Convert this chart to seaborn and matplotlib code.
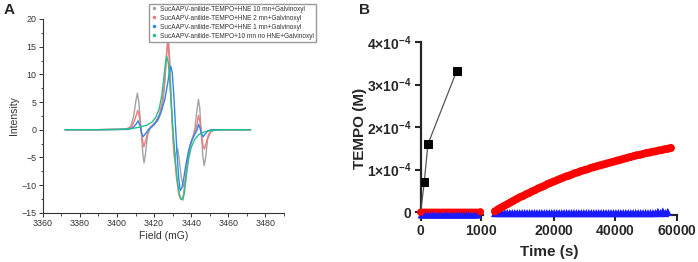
import numpy as np
import pandas as pd
import matplotlib
matplotlib.use("Agg")
import matplotlib.pyplot as plt
import seaborn as sns
from matplotlib.lines import Line2D
from matplotlib.ticker import MultipleLocator, FixedLocator, FuncFormatter

# ---------------- panel A : EPR spectra ----------------
labels_a = [
    "SucAAPV-anilide-TEMPO+HNE 10 mn+Galvinoxyl",
    "SucAAPV-anilide-TEMPO+HNE 2 mn+Galvinoxyl",
    "SucAAPV-anilide-TEMPO+HNE 1 mn+Galvinoxyl",
    "SucAAPV-anilide-TEMPO+10 mn no HNE+Galvinoxyl",
]
colors_a = ["#a3a3a3", "#f47a7a", "#2f86ee", "#25c08a"]

gray_field = [3372, 3390, 3405, 3407.5, 3409, 3410.2, 3411, 3411.8, 3413, 3414, 3414.6, 3415.3,
              3416.5, 3418, 3420, 3422, 3423.5, 3424.8, 3425.8, 3426.7, 3427.7, 3428.5, 3429.2,
              3430.2, 3431, 3431.8, 3432.7, 3433.6, 3434.6, 3435.8, 3437, 3438.2, 3439.5, 3441,
              3442, 3442.9, 3443.9, 3444.6, 3445.4, 3446.3, 3447, 3447.8, 3448.8, 3450.5, 3453, 3472]
gray_int = [0, 0, 0.1, 0.6, 2.5, 5.2, 6.6, 5.0, 0, -4.5, -6.0, -4.5,
            -1.0, 0.3, 0.9, 1.6, 2.8, 5.0, 8.5, 13.5, 16.7, 12.5, 6.0,
            -2.0, -5.2, -4.2, -3.4, -5.5, -8.5, -10.3, -9.0, -5.5, -2.8, -1.2,
            0.3, 3.0, 5.5, 4.0, -0.5, -4.8, -6.5, -5.0, -1.8, -0.4, 0, 0]

red_field = [3372, 3390, 3405, 3408, 3409.8, 3411.2, 3412.3, 3413.4, 3414.5, 3415.6, 3417, 3419,
             3421, 3422.8, 3424.3, 3425.5, 3426.5, 3427.3, 3428.1, 3428.9, 3429.7, 3430.8, 3432,
             3433.2, 3434.2, 3435, 3435.8, 3436.8, 3438, 3439.5, 3441, 3442.3, 3443.2, 3443.9,
             3444.7, 3445.6, 3446.4, 3447.1, 3448, 3449.3, 3451, 3454, 3472]
red_int = [0, 0, 0.1, 0.5, 2.0, 3.5, 2.0, -1.2, -3.1, -1.8, 0.1, 0.8,
           1.5, 2.7, 4.8, 8.0, 12.5, 16.3, 13.0, 7.0, 1.5, -4.0, -8.5,
           -11.5, -12.5, -12.6, -11.8, -9.0, -5.5, -2.8, -1.3, -0.3, 1.2, 2.6,
           1.5, -1.0, -2.9, -3.5, -2.5, -0.9, -0.2, 0, 0]

blue_field = [3372, 3390, 3406, 3408.5, 3410.3, 3411.4, 3412.6, 3413.3, 3414.1, 3415, 3416.5, 3418,
              3420, 3422, 3424, 3425.8, 3427.3, 3428.3, 3429, 3429.8, 3430.6, 3431.4, 3432.3,
              3433.2, 3434.1, 3435, 3436, 3437.2, 3438.6, 3440.2, 3441.8, 3443, 3444, 3444.8,
              3445.6, 3446.5, 3447.5, 3449, 3451, 3472]
blue_int = [0, 0, 0.05, 0.3, 1.0, 1.6, 0.6, -0.6, -1.27, -0.9, -0.2, 0.3,
            0.9, 1.9, 3.4, 5.5, 8.3, 10.5, 11.5, 10.3, 6.5, 1.5, -3.8,
            -8.5, -11.0, -10.5, -8.8, -6.2, -3.8, -2.0, -0.9, -0.2, 0.97, 0.2,
            -0.8, -1.27, -0.8, -0.2, 0, 0]

green_field = [3372, 3390, 3402, 3408, 3412, 3416, 3419, 3421, 3422.8, 3424.2, 3425.3, 3426.2,
               3426.9, 3427.7, 3428.5, 3429.4, 3430.3, 3431.3, 3432.4, 3433.5, 3434.5, 3435.5,
               3436.4, 3437.4, 3438.6, 3440, 3441.8, 3444, 3447, 3451, 3456, 3472]
green_int = [0, 0, 0.05, 0.2, 0.45, 0.8, 1.4, 2.3, 3.8, 6.3, 9.5, 12.2,
             13.2, 12.0, 8.5, 4.0, -0.5, -5.0, -8.8, -11.5, -12.5, -12.7,
             -11.3, -8.2, -5.3, -3.2, -1.8, -0.9, -0.4, -0.15, 0, 0]

# ---------------- panel B : TEMPO kinetics (values in 1e-4 M) ----------------
black_t = [0, 60, 120, 600]
black_v = [0, 0.72, 1.60, 3.33]

red_tri_t = [20, 60, 100, 140, 180, 220, 260, 300, 340, 380, 420, 460, 500, 540,
             580, 620, 660, 700, 740, 780, 820, 860, 900, 940]
red_tri_v = [0.02] * len(red_tri_t)
red_dot_t1 = [0, 990]
red_dot_v1 = [0, 0.01]

blue_t1 = [15, 45, 75, 105, 135, 165, 195, 225, 255, 285, 315, 345, 375, 405, 435, 465,
           495, 525, 555, 585, 615, 645, 675, 705, 735, 765, 795, 825, 855, 885, 915, 945]
blue_v1 = [-0.05] * len(blue_t1)

red_t2 = [1000, 2000, 3000, 4000, 5000, 6000, 7000, 8000, 9000, 10000, 11000, 12000,
          13000, 14000, 15000, 16000, 17000, 18000, 19000, 20000, 21000, 22000, 23000,
          24000, 25000, 26000, 27000, 28000, 29000, 30000, 31000, 32000, 33000, 34000,
          35000, 36000, 37000, 38000, 39000, 40000, 41000, 42000, 43000, 44000, 45000,
          46000, 47000, 48000, 49000, 50000, 51000, 52000, 53000, 54000, 55000, 56000,
          57000, 58000]
red_v2 = [0.02, 0.07, 0.11, 0.15, 0.19, 0.23, 0.27, 0.31, 0.35, 0.38, 0.42, 0.45,
          0.49, 0.52, 0.56, 0.59, 0.62, 0.66, 0.69, 0.72, 0.75, 0.78, 0.81,
          0.84, 0.86, 0.89, 0.92, 0.94, 0.97, 0.99, 1.01, 1.04, 1.06, 1.08,
          1.10, 1.12, 1.14, 1.16, 1.18, 1.20, 1.22, 1.24, 1.26, 1.28, 1.30,
          1.32, 1.34, 1.35, 1.37, 1.39, 1.40, 1.42, 1.43, 1.45, 1.46, 1.48,
          1.49, 1.51]

blue_t2 = [1000, 1800, 2600, 3400, 4200, 5000, 5800, 6600, 7400, 8200, 9000, 9800,
           10600, 11400, 12200, 13000, 13800, 14600, 15400, 16200, 17000, 17800, 18600,
           19400, 20200, 21000, 21800, 22600, 23400, 24200, 25000, 25800, 26600, 27400,
           28200, 29000, 29800, 30600, 31400, 32200, 33000, 33800, 34600, 35400, 36200,
           37000, 37800, 38600, 39400, 40200, 41000, 41800, 42600, 43400, 44200, 45000,
           45800, 46600, 47400, 48200, 49000, 49800, 50600, 51400, 52200, 53000, 53800,
           54600, 55400, 56200, 57000]
blue_v2 = [-0.02] * 66 + [0.01, -0.02, 0.02, -0.02, 0.01]

# ---------------- style ----------------
sns.set_style("ticks")
plt.rcParams['font.family'] = ['Liberation Sans', 'DejaVu Sans']
plt.rcParams['mathtext.fontset'] = 'custom'
plt.rcParams['mathtext.rm'] = 'Liberation Sans'
plt.rcParams['mathtext.bf'] = 'Liberation Sans:bold'

W, H = 698, 262
fig = plt.figure(figsize=(W / 100, H / 100), dpi=100)

def box(x0, y0, x1, y1):
    # pixel box -> figure fraction
    return [x0 / W, 1 - y1 / H, (x1 - x0) / W, (y1 - y0) / H]

# ---------------- panel A ----------------
axA = fig.add_axes(box(42.7, 19, 284, 212.7))
frames = []
for lab, f, v in zip(labels_a, [gray_field, red_field, blue_field, green_field],
                     [gray_int, red_int, blue_int, green_int]):
    frames.append(pd.DataFrame({"field": f, "intensity": v, "series": lab}))
df_a = pd.concat(frames, ignore_index=True)
sns.lineplot(data=df_a, x="field", y="intensity", hue="series", hue_order=labels_a,
             palette=colors_a, sort=False, estimator=None, legend=False, lw=1.0, ax=axA)

axA.set_xlim(3360, 3490)
axA.set_ylim(-15, 20)
axA.xaxis.set_major_locator(FixedLocator([3360, 3380, 3400, 3420, 3440, 3460, 3480]))
axA.xaxis.set_minor_locator(MultipleLocator(10))
axA.yaxis.set_major_locator(MultipleLocator(5))
axA.yaxis.set_minor_locator(MultipleLocator(2.5))
sns.despine(ax=axA)
for s in ["left", "bottom"]:
    axA.spines[s].set_color("#333333")
    axA.spines[s].set_linewidth(0.8)
axA.tick_params(which="major", length=3, width=0.7, color="#333333", labelsize=6.4,
                labelcolor="#333333", pad=1.5)
axA.tick_params(which="minor", length=1.8, width=0.6, color="#333333")
axA.set_xlabel("Field (mG)", fontsize=7.5, color="#333333", labelpad=2)
axA.set_ylabel("Intensity", fontsize=7.5, color="#333333", labelpad=2)

handles = [Line2D([], [], ls="none", marker="o", ms=1.5, color=c) for c in colors_a]
fig.legend(handles, labels_a, loc="upper left", bbox_to_anchor=(146 / W, 1 - 0.5 / H),
           fontsize=4.7, frameon=True, fancybox=False, edgecolor="#999999",
           handlelength=0.8, handletextpad=0.6, borderpad=0.3, labelspacing=0.3,
           labelcolor="#333333", framealpha=1)
fig.text(4 / W, 1 - 3 / H, "A", fontsize=11, fontweight="bold", va="top")

# ---------------- panel B ----------------
ylo, yhi = -0.06e-4, 4e-4
axB1 = fig.add_axes(box(420.7, 42, 482.8, 214.8))
axB2 = fig.add_axes(box(495, 42, 677, 214.8))
sc = 1e-4

sns.scatterplot(x=blue_t1, y=np.array(blue_v1) * sc, marker="^", s=34, color="#1a1aff",
                edgecolor="none", clip_on=False, ax=axB1, zorder=3)
sns.scatterplot(x=red_tri_t, y=np.array(red_tri_v) * sc, marker="v", s=14, color="red",
                edgecolor="none", clip_on=False, ax=axB1, zorder=4)
sns.scatterplot(x=red_dot_t1, y=np.array(red_dot_v1) * sc, marker="o", s=28, color="red",
                edgecolor="none", clip_on=False, ax=axB1, zorder=4)
sns.lineplot(x=black_t, y=np.array(black_v) * sc, color="#555555", lw=0.9, marker="s",
             markersize=5.5, markerfacecolor="black", markeredgecolor="black",
             markevery=[1, 2, 3], sort=False, estimator=None, ax=axB1, zorder=5)

sns.scatterplot(x=blue_t2, y=np.array(blue_v2) * sc, marker="^", s=34, color="#1a1aff",
                edgecolor="none", clip_on=False, ax=axB2, zorder=3)
sns.scatterplot(x=red_t2, y=np.array(red_v2) * sc, marker="o", s=34, color="red",
                edgecolor="none", clip_on=False, ax=axB2, zorder=4)

axB1.set_xlim(0, 1030)
axB2.set_xlim(1000, 60000)
for ax in (axB1, axB2):
    ax.set_ylim(ylo, yhi)
    ax.set_xlabel("")
    ax.set_ylabel("")
    for s in ["top", "right"]:
        ax.spines[s].set_visible(False)
    ax.spines["bottom"].set_linewidth(1.6)
    ax.spines["left"].set_linewidth(1.6)
    ax.tick_params(length=4.5, width=1.5, labelsize=10, pad=2)
axB2.spines["left"].set_visible(False)
axB2.tick_params(axis="y", left=False, labelleft=False)
axB1.xaxis.set_major_locator(FixedLocator([0, 1000]))
axB2.xaxis.set_major_locator(FixedLocator([20000, 40000, 60000]))
axB1.yaxis.set_major_locator(FixedLocator([0, 1e-4, 2e-4, 3e-4, 4e-4]))

def tempo_fmt(v, pos):
    n = int(round(v * 1e4))
    if n == 0:
        return r"$\mathbf{0}$"
    return r"$\mathbf{%d{\times}10^{-4}}$" % n

axB1.yaxis.set_major_formatter(FuncFormatter(tempo_fmt))
axB1.xaxis.set_major_formatter(FuncFormatter(lambda v, p: r"$\mathbf{%d}$" % v))
axB2.xaxis.set_major_formatter(FuncFormatter(lambda v, p: r"$\mathbf{%d}$" % v))

fig.text(360 / W, 1 - 128 / H, "TEMPO (M)", fontsize=11, fontweight="bold",
         rotation=90, ha="center", va="center")
fig.text(549 / W, 1 - 252 / H, "Time (s)", fontsize=11, fontweight="bold",
         ha="center", va="center")
fig.text(359 / W, 1 - 3 / H, "B", fontsize=11, fontweight="bold", va="top")

fig.savefig("out.png", dpi=100)
